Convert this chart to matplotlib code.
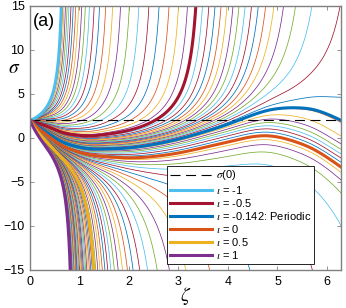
import numpy as np
import matplotlib
matplotlib.use("Agg")
import matplotlib.pyplot as plt

# ---------------- data ----------------
zeta_ticks = [0, 1, 2, 3, 4, 5, 6]
sigma_ticks = [-15, -10, -5, 0, 5, 10, 15]
sigma0 = 2.0                      # initial value sigma(0)

# iota family of thin curves (-1 : 0.02 : 1)
iota_family = np.round(np.linspace(-1.0, 1.0, 101), 3)

# highlighted curves
iota_high = [-1.0, -0.5, -0.142, 0.0, 0.5, 1.0]
labels_high = [r"$\iota$ = -1", r"$\iota$ = -0.5", r"$\iota$ = -0.142: Periodic",
               r"$\iota$ = 0", r"$\iota$ = 0.5", r"$\iota$ = 1"]
colors_high = ["#4DBEEE", "#A2142F", "#0072BD", "#D95319", "#EDB120", "#7E2F8E"]

# iota = 0 curve (defines the forcing term)
zeta_iota0 = [0.0, 0.1, 0.2, 0.37, 0.6, 0.9, 1.2, 1.6, 2.0, 2.5, 3.0, 3.5, 4.0, 4.5, 4.8, 5.1, 5.4, 5.7, 6.0, 2*np.pi]
sigma_iota0 = [2.0, 1.45, 0.95, 0.2, -0.7, -1.45, -1.9, -2.15, -2.25, -2.1, -1.7, -1.1, -0.45, 0.15, 0.25, 0.0, -0.5, -1.2, -2.2, -3.3]

matlab_colors = ["#0072BD", "#D95319", "#EDB120", "#7E2F8E", "#77AC30", "#4DBEEE", "#A2142F"]

# effective coupling of iota in the model
iota_knots = [-1.0, -0.5, -0.142, 0.0, 0.5, 1.0]
g_knots = [-0.78, -0.37, -0.122, 0.0, 0.38, 0.72]

# ---------------- model: sigma' = -g(iota) (A + sigma^2) + c ----------------
def natural_spline(x, y, xq):
    x = np.asarray(x, float); y = np.asarray(y, float)
    n = len(x); h = np.diff(x)
    M_ = np.zeros((n, n)); r = np.zeros(n)
    M_[0, 0] = 1; M_[-1, -1] = 1
    for i in range(1, n - 1):
        M_[i, i - 1] = h[i - 1]; M_[i, i] = 2 * (h[i - 1] + h[i]); M_[i, i + 1] = h[i]
        r[i] = 6 * ((y[i + 1] - y[i]) / h[i] - (y[i] - y[i - 1]) / h[i - 1])
    M = np.linalg.solve(M_, r)
    idx = np.clip(np.searchsorted(x, xq) - 1, 0, n - 2)
    x0 = x[idx]; x1 = x[idx + 1]; hh = x1 - x0
    a = (x1 - xq) / hh; b = (xq - x0) / hh
    der = (y[idx + 1] - y[idx]) / hh + (-(3 * a**2 - 1) * M[idx] + (3 * b**2 - 1) * M[idx + 1]) * hh / 6
    return der

def g(i):
    return np.interp(np.asarray(i, float), iota_knots, g_knots)

L = 2 * np.pi
N = 3000
h = L / N
zeta = np.linspace(0, L, N + 1)
zh = np.linspace(0, L, 2 * N + 1)
c_h = natural_spline(zeta_iota0, sigma_iota0, zh)
bump_w = 0.32
bump = np.exp(-(zh / bump_w) ** 2) + np.exp(-((zh - L) / bump_w) ** 2)
A_amp = 3.0

def integrate(iotas, a0):
    gi = g(iotas)
    a0 = np.broadcast_to(np.asarray(a0, float), gi.shape)
    s = np.full(gi.shape, sigma0)
    out = np.empty((N + 1, gi.size)); out[0] = s
    for k in range(N):
        A0 = a0 + A_amp * bump[2 * k]; A1 = a0 + A_amp * bump[2 * k + 1]; A2 = a0 + A_amp * bump[2 * k + 2]
        C0 = c_h[2 * k]; C1 = c_h[2 * k + 1]; C2 = c_h[2 * k + 2]
        k1 = -gi * (A0 + s * s) + C0
        k2 = -gi * (A1 + (s + h / 2 * k1) ** 2) + C1
        k3 = -gi * (A1 + (s + h / 2 * k2) ** 2) + C1
        k4 = -gi * (A2 + (s + h * k3) ** 2) + C2
        s = s + h / 6 * (k1 + 2 * k2 + 2 * k3 + k4)
        s = np.where(np.abs(s) > 60, np.nan, s)
        out[k + 1] = s
    return out

# choose background level so that iota = -0.142 is periodic
a0_cand = np.linspace(-2.0, 6.0, 801)
with np.errstate(all="ignore"):
    endv = integrate(np.full(a0_cand.shape, -0.142), a0_cand)[-1]
ok = np.isfinite(endv)
a0 = a0_cand[ok][np.argmin(np.abs(endv[ok] - sigma0))]

with np.errstate(all="ignore"):
    fam = integrate(iota_family, a0)
    high = integrate(iota_high, a0)

# ---------------- figure ----------------
plt.rcParams["font.family"] = ["Liberation Sans", "DejaVu Sans"]
plt.rcParams["mathtext.fontset"] = "stix"
fig = plt.figure(figsize=(3.46, 3.08), dpi=100)
ax = fig.add_axes([30 / 346, 1 - 270 / 308, 311 / 346, 264 / 308])

for j in range(len(iota_family)):
    ax.plot(zeta, fam[:, j], color=matlab_colors[j % 7], lw=0.55)

ax.plot([0, L], [sigma0, sigma0], color="k", lw=0.8, dashes=(9, 5), label=r"$\sigma$(0)")
for j in range(len(iota_high)):
    ax.plot(zeta, high[:, j], color=colors_high[j], lw=2.2, label=labels_high[j])

ax.set_xlim(0, L)
ax.set_ylim(-15, 15)
ax.set_xticks(zeta_ticks)
ax.set_yticks(sigma_ticks)
ax.tick_params(direction="in", length=3, width=0.6, color="#808080", labelsize=9,
               top=True, right=True, pad=4)
for sp in ax.spines.values():
    sp.set_color("#808080"); sp.set_linewidth(1.0)

ax.set_xlabel(r"$\zeta$", fontsize=14, labelpad=-2)
ax.set_ylabel(r"$\sigma$", fontsize=14, rotation=0, va="center", ha="center")
ax.yaxis.set_label_coords(-0.052, 0.765)
ax.text(0.01, 0.975, "(a)", transform=ax.transAxes, fontsize=13, va="top", ha="left")

leg = ax.legend(loc="lower right", bbox_to_anchor=(0.913, 0.023), fontsize=8,
                frameon=True, fancybox=False, edgecolor="k", framealpha=1,
                handlelength=3.8, handletextpad=0.3, labelspacing=0.1, borderpad=0.25,
                borderaxespad=0)
leg.get_frame().set_linewidth(0.6)

fig.savefig("out.png", dpi=100)
